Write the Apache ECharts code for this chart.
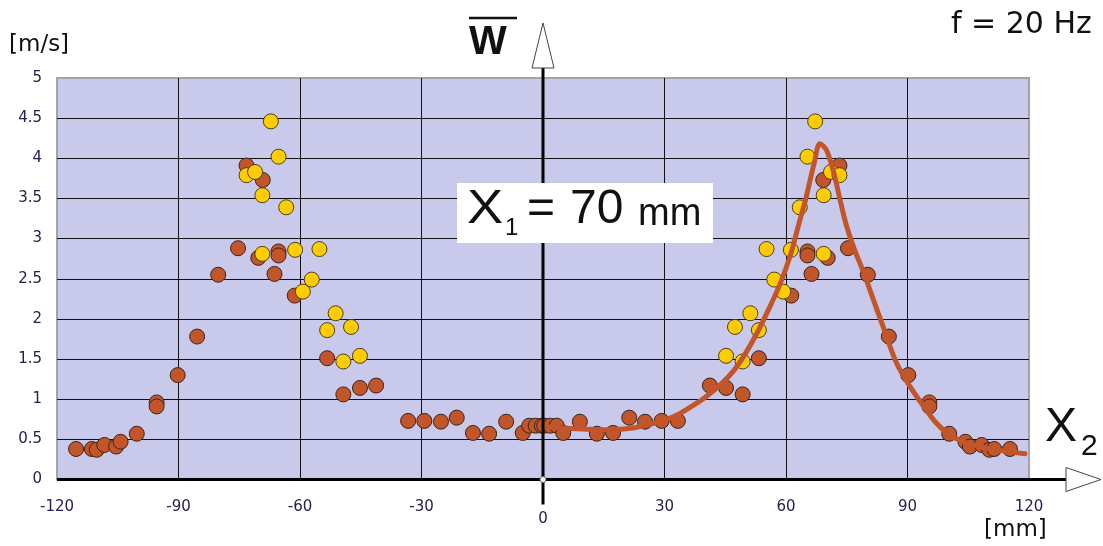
<!DOCTYPE html>
<html>
<head>
<meta charset="utf-8">
<script src="https://cdn.jsdelivr.net/npm/echarts@6/dist/echarts.min.js"></script>
<style>
  html, body { margin: 0; padding: 0; background: #ffffff; }
  #chart { width: 1103px; height: 546px; }
</style>
</head>
<body>
<div id="chart"></div>
<script>
// Measured velocity profile, f = 20 Hz (x in mm, w in m/s)
const brownX = [-115.3, -111.4, -110.2, -108.3, -105.4, -104.3, -100.3, -95.4, -95.4, -90.2, -85.4, -80.2,
  -75.3, -73.2, -70.3, -69.2, -66.3, -65.3, -65.3, -61.3, -53.3, -49.3, -45.2, -41.2,
  -33.3, -29.3, -25.2, -21.3, -17.3, -13.3, -9.1, -5.0, -3.4, -1.8, -0.3,
  0.3, 1.8, 3.4, 5.0, 9.1, 13.3, 17.3, 21.3, 25.2, 29.3, 33.3,
  41.2, 45.2, 49.3, 53.3, 61.3, 65.3, 65.3, 66.3, 69.2, 70.3, 73.2, 75.3,
  80.2, 85.4, 90.2, 95.4, 95.4, 100.3, 104.3, 105.4, 108.3, 110.2, 111.4, 115.3];
const brownY = [0.38, 0.38, 0.37, 0.43, 0.41, 0.47, 0.57, 0.96, 0.91, 1.30, 1.78, 2.55,
  2.88, 3.91, 2.76, 3.73, 2.56, 2.84, 2.79, 2.29, 1.51, 1.06, 1.14, 1.17,
  0.73, 0.73, 0.72, 0.77, 0.58, 0.57, 0.72, 0.58, 0.67, 0.67, 0.67,
  0.67, 0.67, 0.67, 0.58, 0.72, 0.57, 0.58, 0.77, 0.72, 0.73, 0.73,
  1.17, 1.14, 1.06, 1.51, 2.29, 2.84, 2.79, 2.56, 3.73, 2.76, 3.91, 2.88,
  2.55, 1.78, 1.30, 0.96, 0.91, 0.57, 0.47, 0.41, 0.43, 0.37, 0.38, 0.38];

const yellowX = [-73.2, -71.1, -69.3, -69.3, -67.2, -65.3, -63.4, -61.2, -59.3, -57.1, -55.2, -53.3,
  -51.2, -49.3, -47.4, -45.2,
  45.2, 47.4, 49.3, 51.2, 53.3, 55.2, 57.1, 59.3, 61.2, 63.4, 65.3, 67.2, 69.3, 69.3, 71.1, 73.2];
const yellowY = [3.79, 3.83, 3.54, 2.81, 4.46, 4.02, 3.39, 2.86, 2.34, 2.49, 2.87, 1.86,
  2.07, 1.47, 1.90, 1.54,
  1.54, 1.90, 1.47, 2.07, 1.86, 2.87, 2.49, 2.34, 2.86, 3.39, 4.02, 4.46, 2.81, 3.54, 3.83, 3.79];

// Fitted profile around X1 = 70 mm
const fitX = [0, 5, 10, 15, 20, 25, 30, 33, 37, 40, 44, 47, 50, 53, 56, 58.5, 61, 63, 65, 67, 68.4,
  70, 71.7, 73.5, 75, 77, 79, 81.5, 84, 87.3, 90.6, 94.7, 97, 99.7, 102, 104.6, 107, 109.5, 112, 114.5, 119];
const fitY = [0.66, 0.64, 0.63, 0.62, 0.63, 0.67, 0.74, 0.80, 0.92, 1.02, 1.19, 1.35, 1.57, 1.84, 2.15, 2.43,
  2.78, 3.15, 3.52, 3.95, 4.18, 4.10, 3.84, 3.45, 3.15, 2.85, 2.60, 2.25, 1.90, 1.45, 1.16, 0.86, 0.71, 0.58,
  0.51, 0.45, 0.42, 0.39, 0.37, 0.35, 0.32];

const xTickMin = -120, xTickMax = 120, xTickStep = 30;
const yTickMin = 0, yTickMax = 5, yTickStep = 0.5;

const pairs = (xs, ys) => xs.map((x, i) => [x, ys[i]]);

const tickColor = '#23234e';
const labelFont = 'DejaVu Sans';

const chart = echarts.init(document.getElementById('chart'), null, { renderer: 'canvas' });

chart.setOption({
  animation: false,
  backgroundColor: '#ffffff',
  grid: {
    left: 57, top: 78, width: 972, height: 401.5,
    show: true, backgroundColor: '#c9c9eb', borderColor: '#a3a3ad', borderWidth: 2
  },
  xAxis: {
    type: 'value', min: xTickMin, max: xTickMax, interval: xTickStep,
    axisLine: { show: false },
    axisTick: { show: false },
    splitLine: { show: true, showMinLine: false, showMaxLine: false, lineStyle: { color: '#111', width: 1 } },
    axisLabel: {
      margin: 20, color: tickColor, fontFamily: labelFont, fontSize: 15,
      formatter: v => (v === 0 ? '{z|0}' : String(v)),
      rich: { z: { padding: [12, 0, 0, 0], color: tickColor, fontFamily: labelFont, fontSize: 15 } }
    }
  },
  yAxis: {
    type: 'value', min: yTickMin, max: yTickMax, interval: yTickStep,
    axisLine: { show: false },
    axisTick: { show: false },
    splitLine: { show: true, showMinLine: false, showMaxLine: false, lineStyle: { color: '#111', width: 1 } },
    axisLabel: { margin: 15, color: tickColor, fontFamily: labelFont, fontSize: 15 }
  },
  series: [
    {
      type: 'scatter', data: pairs(brownX, brownY), symbol: 'circle', symbolSize: 15,
      itemStyle: { color: '#c2562a', borderColor: '#3b2418', borderWidth: 1, opacity: 1 }, z: 3
    },
    {
      type: 'scatter', data: pairs(yellowX, yellowY), symbol: 'circle', symbolSize: 15,
      itemStyle: { color: '#ffcc00', borderColor: '#4d3f18', borderWidth: 1, opacity: 1 }, z: 4
    },
    {
      type: 'line', data: pairs(fitX, fitY), showSymbol: false, smooth: 0.35,
      lineStyle: { color: '#c2562a', width: 5, cap: 'round', join: 'round' }, z: 5
    }
  ]
});

// Axes with outlined arrow heads, placed from the chart's own coordinate system
const o = chart.convertToPixel({ gridIndex: 0 }, [0, 0]);
const xr = chart.convertToPixel({ gridIndex: 0 }, [xTickMax, 0]);
const xl = chart.convertToPixel({ gridIndex: 0 }, [xTickMin, 0]);
const yt = chart.convertToPixel({ gridIndex: 0 }, [0, yTickMax]);

const vBase = yt[1] - 10, vTip = yt[1] - 55;
const hBase = xr[0] + 37, hTip = xr[0] + 72;

chart.setOption({
  graphic: [
    { type: 'line', z: 100, shape: { x1: o[0], y1: o[1] + 25, x2: o[0], y2: vBase }, style: { stroke: '#000', lineWidth: 3 } },
    { type: 'line', z: 100, shape: { x1: xl[0], y1: o[1], x2: hBase, y2: o[1] }, style: { stroke: '#000', lineWidth: 3 } },
    { type: 'polygon', z: 101, shape: { points: [[o[0], vTip], [o[0] - 11, vBase], [o[0] + 11, vBase]] },
      style: { fill: '#ffffff', stroke: '#444', lineWidth: 1 } },
    { type: 'polygon', z: 101, shape: { points: [[hTip, o[1]], [hBase, o[1] - 12], [hBase, o[1] + 12]] },
      style: { fill: '#ffffff', stroke: '#444', lineWidth: 1 } },
    { type: 'circle', z: 102, shape: { cx: o[0], cy: o[1], r: 3 }, style: { fill: '#ffffff', stroke: '#666', lineWidth: 1 } },

    // axis names and annotations
    { type: 'text', z: 110, left: 9, top: 34, style: { text: '[m/s]', font: '23px "DejaVu Sans"', fill: '#111' } },
    { type: 'text', z: 110, left: 984, top: 519, style: { text: '[mm]', font: '23px "DejaVu Sans"', fill: '#111' } },
    { type: 'text', z: 110, left: 951, top: 10, style: { text: 'f = 20 Hz', font: '30px "DejaVu Sans"', fill: '#111' } },
    { type: 'text', z: 110, left: 469, top: 23, style: { text: 'W', font: 'bold 40px "Liberation Sans"', fill: '#111' } },
    { type: 'line', z: 110, shape: { x1: 469, y1: 18, x2: 517, y2: 18 }, style: { stroke: '#111', lineWidth: 2.5 } },
    { type: 'text', z: 110, left: 1045, top: 404, style: { text: 'X', font: '48px "Liberation Sans"', fill: '#111' } },
    { type: 'text', z: 110, left: 1081, top: 432, style: { text: '2', font: '30px "Liberation Sans"', fill: '#111' } },

    { type: 'rect', z: 108, shape: { x: 457, y: 183, width: 256, height: 60 }, style: { fill: '#ffffff' } },
    { type: 'text', z: 110, x: 467, y: 186, scaleX: 1.13, style: { text: 'X', font: '48px "Liberation Sans"', fill: '#111' } },
    { type: 'text', z: 110, left: 505, top: 216, style: { text: '1', font: '24px "Liberation Sans"', fill: '#111' } },
    { type: 'text', z: 110, left: 527, top: 186, style: { text: '=', font: '48px "Liberation Sans"', fill: '#111' } },
    { type: 'text', z: 110, left: 570, top: 186, style: { text: '70', font: '48px "Liberation Sans"', fill: '#111' } },
    { type: 'text', z: 110, left: 638, top: 196, style: { text: 'mm', font: '38px "Liberation Sans"', fill: '#111' } }
  ]
});
</script>
</body>
</html>
